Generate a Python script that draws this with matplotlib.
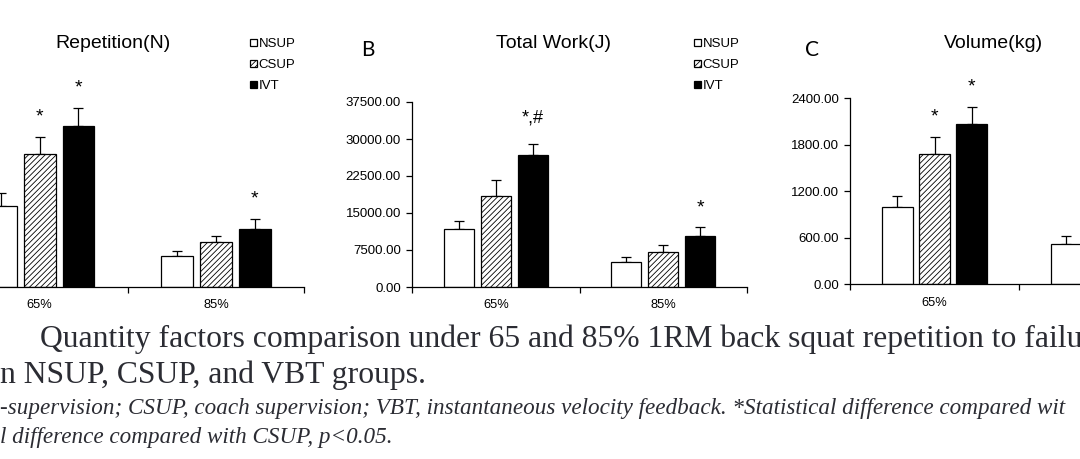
import matplotlib
matplotlib.use('Agg')
import matplotlib.pyplot as plt
import numpy as np

W, H, DPI = 1080, 459, 100

# ---------------- data ----------------
intensities = ['65%', '85%']
groups = ['NSUP', 'CSUP', 'IVT']

rep_nsup = [17.5, 6.6]
rep_csup = [28.8, 9.6]
rep_ivt = [34.7, 12.6]
rep_nsup_err = [2.7, 1.2]
rep_csup_err = [3.7, 1.4]
rep_ivt_err = [4.1, 2.1]
rep_ticks = [0, 10, 20, 30, 40]

work_nsup = [11750, 5000]
work_csup = [18400, 7150]
work_ivt = [26700, 10400]
work_nsup_err = [1700, 1020]
work_csup_err = [3300, 1300]
work_ivt_err = [2300, 1700]
work_ticks = [0, 7500, 15000, 22500, 30000, 37500]

vol_nsup = [993, 524]
vol_csup = [1685, 760]
vol_ivt = [2072, 1000]
vol_nsup_err = [146, 103]
vol_csup_err = [219, 110]
vol_ivt_err = [216, 170]
vol_ticks = [0, 600, 1200, 1800, 2400]

# significance marks: (group index, intensity index, text)
rep_marks = [(1, 0, '*'), (2, 0, '*'), (2, 1, '*')]
work_marks = [(2, 0, '*,#'), (2, 1, '*')]
vol_marks = [(1, 0, '*'), (2, 0, '*'), (2, 1, '*')]

titles = ['Repetition(N)', 'Total Work(J)', 'Volume(kg)']

caption1 = 'Quantity factors comparison under 65 and 85% 1RM back squat repetition to failu'
caption2 = 'n NSUP, CSUP, and VBT groups.'
caption3 = ('-supervision; CSUP, coach supervision; VBT, instantaneous velocity feedback. '
            '*Statistical difference compared wit')
caption4 = 'l difference compared with CSUP, p<0.05.'

# ---------------- style ----------------
plt.rcParams['font.family'] = ['Liberation Sans', 'DejaVu Sans']
plt.rcParams['hatch.linewidth'] = 0.6
plt.rcParams['hatch.color'] = '#333333'

fig = plt.figure(figsize=(W / DPI, H / DPI), dpi=DPI)


def rect(x0, x1, ytop, ybot):
    return [x0 / W, 1 - ybot / H, (x1 - x0) / W, (ybot - ytop) / H]


def fx(x):
    return x / W


def fy(y):
    return 1 - y / H


BW = 0.18
STEP = 0.22
styles = [dict(facecolor='white', hatch=None),
          dict(facecolor='white', hatch='//////'),
          dict(facecolor='black', hatch=None)]


def panel(r, series, errs, ticks, marks, fmt, show_ylabels=True):
    ax = fig.add_axes(r)
    x = np.arange(len(intensities))
    bars = []
    for i, (vals, e) in enumerate(zip(series, errs)):
        pos = x + (i - 1) * STEP
        b = ax.bar(pos, vals, BW, edgecolor='black', linewidth=0.9,
                   label=groups[i], zorder=2, **styles[i])
        ax.errorbar(pos, vals, yerr=[np.zeros(len(e)), e], fmt='none',
                    ecolor='black', elinewidth=0.9, capsize=3.5, capthick=0.9,
                    zorder=1)
        bars.append(b)
    for gi, ii, txt in marks:
        top = series[gi][ii] + errs[gi][ii]
        if txt == '*':
            off, fs = 11, 14
        else:
            off, fs = 15.5, 13
        ax.annotate(txt, (x[ii] + (gi - 1) * STEP, top), xytext=(0, off),
                    textcoords='offset points', ha='center', va='baseline',
                    fontsize=fs)
    ax.set_xlim(-0.5, len(intensities) - 0.5)
    ax.set_ylim(ticks[0], ticks[-1])
    ax.set_yticks(ticks)
    if show_ylabels:
        ax.set_yticklabels([fmt(t) for t in ticks])
    else:
        ax.tick_params(axis='y', labelleft=False)
    ax.set_xticks(x)
    ax.set_xticklabels(intensities)
    ax.set_xticks(np.arange(-0.5, len(intensities)), minor=True)
    ax.tick_params(axis='x', which='major', length=0, pad=9, labelsize=9.3)
    ax.tick_params(axis='x', which='minor', length=4, width=0.9, direction='out')
    ax.tick_params(axis='y', length=4, width=0.9, labelsize=9.5, pad=4)
    for s in ['top', 'right']:
        ax.spines[s].set_visible(False)
    for s in ['left', 'bottom']:
        ax.spines[s].set_linewidth(0.9)
    return ax, bars


fmt2 = lambda t: f'{t:.2f}'

axA, barsA = panel(rect(-48.6, 304.3, 102, 286.7),
                   [rep_nsup, rep_csup, rep_ivt],
                   [rep_nsup_err, rep_csup_err, rep_ivt_err],
                   rep_ticks, rep_marks, fmt2, show_ylabels=False)
axB, barsB = panel(rect(412, 747, 102, 287),
                   [work_nsup, work_csup, work_ivt],
                   [work_nsup_err, work_csup_err, work_ivt_err],
                   work_ticks, work_marks, fmt2)
axC, barsC = panel(rect(850, 1188, 98.3, 284.3),
                   [vol_nsup, vol_csup, vol_ivt],
                   [vol_nsup_err, vol_csup_err, vol_ivt_err],
                   vol_ticks, vol_marks, fmt2)

for ax, bars, lx in [(axA, barsA, 250), (axB, barsB, 694)]:
    ax.legend(bars, groups, loc='upper left', bbox_to_anchor=(fx(lx), fy(38)),
              bbox_transform=fig.transFigure, frameon=False, fontsize=9.5,
              handlelength=0.5, handleheight=0.5, handletextpad=0.15,
              labelspacing=0.68, borderpad=0, borderaxespad=0)

for t, cx in zip(titles, [113, 553, 993]):
    fig.text(fx(cx), fy(43), t, ha='center', va='center', fontsize=14)

for t, cx in [('B', 368), ('C', 812)]:
    fig.text(fx(cx), fy(50), t, ha='center', va='center', fontsize=15,
             family=['Lato', 'DejaVu Sans'])

cap_color = '#2b2c33'
serif = ['Liberation Serif', 'DejaVu Serif']
t1 = fig.text(fx(40), fy(347), caption1, ha='left', va='baseline', fontsize=20,
              family=serif, color=cap_color)
t2 = fig.text(fx(0), fy(383), caption2, ha='left', va='baseline', fontsize=20,
              family=serif, color=cap_color)
t3 = fig.text(fx(0), fy(414), caption3, ha='left', va='baseline', fontsize=15,
              family=serif, style='italic', color=cap_color)
t4 = fig.text(fx(0), fy(443), caption4, ha='left', va='baseline', fontsize=15,
              family=serif, style='italic', color=cap_color)

fig.canvas.draw()
r = fig.canvas.get_renderer()
w1 = t1.get_window_extent(r).width
s1 = t1.get_fontsize() * 1040 / w1
t1.set_fontsize(s1)
t2.set_fontsize(s1)
w3 = t3.get_window_extent(r).width
s3 = t3.get_fontsize() * 1068 / w3
t3.set_fontsize(s3)
t4.set_fontsize(s3)

fig.savefig('out.png', dpi=DPI)
